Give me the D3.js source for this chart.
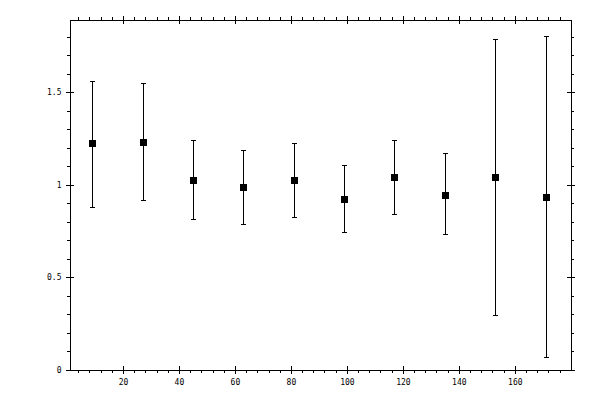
<!DOCTYPE html>
<html>
<head>
<meta charset="utf-8">
<script src="https://cdn.jsdelivr.net/npm/d3@7"></script>
<style>
    html, body { margin: 0; padding: 0; background: #fff; }
    svg { display: block; }
    .tick text { font-family: "DejaVu Sans Mono", monospace; font-size: 8px; fill: #000; }
</style>
</head>
<body>
<div id="chart"></div>
<script>
// Bin centres and measured ratio per bin, with error bar limits
const binCenters = [9, 27, 45, 63, 81, 99, 117, 135, 153, 171];
const ratioValues = [1.222, 1.232, 1.027, 0.989, 1.027, 0.924, 1.038, 0.946, 1.043, 0.935];
const upperValues = [1.561, 1.549, 1.241, 1.189, 1.227, 1.108, 1.243, 1.168, 1.784, 1.802];
const lowerValues = [0.876, 0.914, 0.816, 0.789, 0.827, 0.741, 0.838, 0.730, 0.297, 0.065];

// Tick values
const xMajorTicks = [20, 40, 60, 80, 100, 120, 140, 160];
const xMinorTicks = d3.range(4, 180, 4).filter(v => v % 20 !== 0);
const yMajorTicks = [0, 0.5, 1, 1.5];
const yMinorTicks = d3.range(1, 19).map(i => i / 10).filter(v => Math.round(v * 10) % 5 !== 0);

function renderErrorPlot(containerId) {
    // ============================================================================
    // STEP 1: SETUP
    // ============================================================================
    const container = d3.select(`#${containerId}`);
    container.selectAll('*').remove();

    const W = 600, H = 400;
    const left = 69.5, right = 570.5, top = 19.5, bottom = 369.5;

    const svg = container.append('svg')
        .attr('width', W)
        .attr('height', H);

    // ============================================================================
    // STEP 2: SCALES
    // ============================================================================
    const x = d3.scaleLinear()
        .domain([0.9, 179.9])
        .range([left, right]);

    const y = d3.scaleLinear()
        .domain([0, 1.892])
        .range([bottom, top]);

    const data = binCenters.map((c, i) => ({
        x: c,
        v: ratioValues[i],
        hi: upperValues[i],
        lo: lowerValues[i]
    }));

    // ============================================================================
    // STEP 3: AXES - frame on all four sides, major ticks cross the line,
    // minor ticks point outward
    // ============================================================================
    function styleAxis(g) {
        g.select('.domain').attr('stroke', '#000').attr('stroke-width', 1);
        g.selectAll('.tick line').attr('stroke', '#000').attr('stroke-width', 1);
        g.attr('shape-rendering', 'crispEdges');
    }

    const noLabel = () => '';

    // bottom
    svg.append('g')
        .attr('transform', `translate(0,${bottom})`)
        .call(d3.axisBottom(x).tickValues(xMinorTicks).tickSize(3).tickSizeOuter(0).tickFormat(noLabel))
        .call(styleAxis);
    svg.append('g')
        .attr('transform', `translate(0,${bottom})`)
        .call(d3.axisBottom(x).tickValues(xMajorTicks).tickSize(-4).tickSizeOuter(0).tickFormat(noLabel))
        .call(styleAxis);
    svg.append('g')
        .attr('transform', `translate(0,${bottom})`)
        .call(d3.axisBottom(x).tickValues(xMajorTicks).tickSize(4).tickSizeOuter(0).tickPadding(6).tickFormat(d => d))
        .call(styleAxis);

    // top
    svg.append('g')
        .attr('transform', `translate(0,${top})`)
        .call(d3.axisTop(x).tickValues(xMinorTicks).tickSize(3).tickSizeOuter(0).tickFormat(noLabel))
        .call(styleAxis);
    svg.append('g')
        .attr('transform', `translate(0,${top})`)
        .call(d3.axisTop(x).tickValues(xMajorTicks).tickSize(4).tickSizeOuter(0).tickFormat(noLabel))
        .call(styleAxis);
    svg.append('g')
        .attr('transform', `translate(0,${top})`)
        .call(d3.axisTop(x).tickValues(xMajorTicks).tickSize(-4).tickSizeOuter(0).tickFormat(noLabel))
        .call(styleAxis);

    // left
    svg.append('g')
        .attr('transform', `translate(${left},0)`)
        .call(d3.axisLeft(y).tickValues(yMinorTicks).tickSize(3).tickSizeOuter(0).tickFormat(noLabel))
        .call(styleAxis);
    svg.append('g')
        .attr('transform', `translate(${left},0)`)
        .call(d3.axisLeft(y).tickValues(yMajorTicks).tickSize(-4).tickSizeOuter(0).tickFormat(noLabel))
        .call(styleAxis);
    svg.append('g')
        .attr('transform', `translate(${left},0)`)
        .call(d3.axisLeft(y).tickValues(yMajorTicks).tickSize(4).tickSizeOuter(0).tickPadding(4).tickFormat(d => d))
        .call(styleAxis);

    // right
    svg.append('g')
        .attr('transform', `translate(${right},0)`)
        .call(d3.axisRight(y).tickValues(yMinorTicks).tickSize(3).tickSizeOuter(0).tickFormat(noLabel))
        .call(styleAxis);
    svg.append('g')
        .attr('transform', `translate(${right},0)`)
        .call(d3.axisRight(y).tickValues(yMajorTicks).tickSize(4).tickSizeOuter(0).tickFormat(noLabel))
        .call(styleAxis);
    svg.append('g')
        .attr('transform', `translate(${right},0)`)
        .call(d3.axisRight(y).tickValues(yMajorTicks).tickSize(-4).tickSizeOuter(0).tickFormat(noLabel))
        .call(styleAxis);

    // ============================================================================
    // STEP 4: ERROR BARS
    // ============================================================================
    const capHalf = 2.5;
    const bars = svg.append('g')
        .attr('stroke', '#000')
        .attr('stroke-width', 1)
        .attr('shape-rendering', 'crispEdges');

    bars.selectAll('.whisker')
        .data(data)
        .enter()
        .append('line')
        .attr('x1', d => Math.round(x(d.x)) + 0.5)
        .attr('x2', d => Math.round(x(d.x)) + 0.5)
        .attr('y1', d => y(d.hi))
        .attr('y2', d => y(d.lo));

    ['hi', 'lo'].forEach(key => {
        bars.selectAll(`.cap-${key}`)
            .data(data)
            .enter()
            .append('line')
            .attr('x1', d => Math.round(x(d.x)) + 0.5 - capHalf)
            .attr('x2', d => Math.round(x(d.x)) + 0.5 + capHalf)
            .attr('y1', d => Math.round(y(d[key])) + 0.5)
            .attr('y2', d => Math.round(y(d[key])) + 0.5);
    });

    // ============================================================================
    // STEP 5: MARKERS
    // ============================================================================
    const size = 7;
    svg.append('g')
        .selectAll('rect')
        .data(data)
        .enter()
        .append('rect')
        .attr('x', d => Math.round(x(d.x)) + 0.5 - size / 2)
        .attr('y', d => Math.round(y(d.v)) + 0.5 - size / 2)
        .attr('width', size)
        .attr('height', size)
        .attr('fill', '#000')
        .attr('shape-rendering', 'crispEdges');
}

renderErrorPlot('chart');
</script>
</body>
</html>
